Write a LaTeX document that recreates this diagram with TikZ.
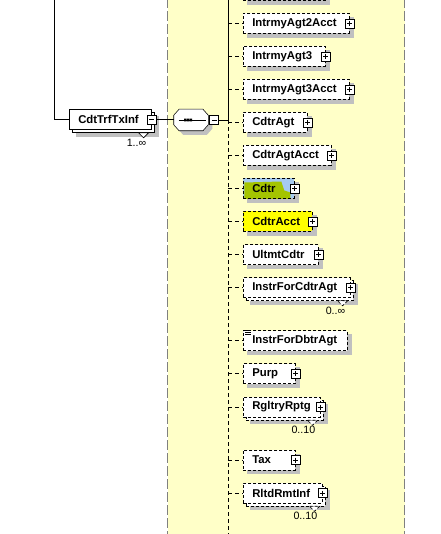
\documentclass[tikz,border=0pt]{standalone}
\usepackage{fontspec}
\newfontfamily\xsfont{Liberation Sans}
\definecolor{xsyellow}{HTML}{FFFFC8}
\definecolor{xsshadow}{HTML}{C0C0C0}
\definecolor{xsframe}{HTML}{808080}
\definecolor{hlblue}{HTML}{A6CAF0}
\definecolor{hlgreen}{HTML}{A4C400}
\definecolor{hlyellow}{HTML}{FFFF00}
\pgfdeclarelayer{back}
\pgfdeclarelayer{shade}
\pgfsetlayers{back,shade,main}
\tikzset{schemadiagram/.style={x=0.75pt,y=-0.75pt,line width=0.75pt}}
\tikzset{
  elem/.style={draw,fill=white,anchor=west,minimum height=15pt,inner xsep=6.75pt,
    inner ysep=0pt,text width=#1,align=left,
    font=\xsfont\bfseries\fontsize{8.5}{10}\selectfont},
  one/.style={elem=#1},
  many/.style={elem=#1,preaction={draw,fill=white,transform canvas={xshift=2.25pt,yshift=-2.25pt}}},
  optional/.style={dash pattern=on 2.25pt off 1.5pt},
  expander/.style={draw,solid,fill=white,minimum size=6.75pt,inner sep=0pt},
  plusbox/.style={expander,path picture={
    \draw ([xshift=1.5pt]path picture bounding box.west) -- ([xshift=-1.5pt]path picture bounding box.east)
          ([yshift=-1.5pt]path picture bounding box.north) -- ([yshift=1.5pt]path picture bounding box.south);}},
  minusbox/.style={expander,path picture={
    \draw ([xshift=1.5pt]path picture bounding box.west) -- ([xshift=-1.5pt]path picture bounding box.east);}},
  compositor/.style={minimum width=25.5pt,minimum height=15.75pt,inner sep=0pt},
  card/.style={anchor=base east,inner sep=0pt,font=\xsfont\fontsize{8}{9.6}\selectfont},
  notch/.style={draw,fill=white,line width=0.5pt},
  branch/.style={dash pattern=on 3pt off 2.25pt},
}
% octagon round a compositor node, moved by #2 (px)
\newcommand{\octagonpath}[2]{([shift={(#2)},xshift=4pt]#1.north west) -- ([shift={(#2)},xshift=-4pt]#1.north east)
  -- ([shift={(#2)},yshift=-4.5pt]#1.north east) -- ([shift={(#2)},yshift=4.5pt]#1.south east)
  -- ([shift={(#2)},xshift=-4pt]#1.south east) -- ([shift={(#2)},xshift=4pt]#1.south west)
  -- ([shift={(#2)},yshift=4.5pt]#1.south west) -- ([shift={(#2)},yshift=-4.5pt]#1.north west) -- cycle}

\begin{document}
\begin{tikzpicture}[schemadiagram]
\useasboundingbox (0,0) rectangle (440,534);
\clip (0,0) rectangle (440,534);

% sequence area
\begin{pgfonlayer}{back}
\fill[xsyellow] (167.5,-2) rectangle (404.5,536);
\draw[xsframe,dash pattern=on 7.5pt off 2.25pt] (167.5,-2) -- (167.5,536) (404.5,-2) -- (404.5,536);
\end{pgfonlayer}

\node[many=48pt] (cdttrftxinf) at (69,119.5) {CdtTrfTxInf};
\node[minusbox] (cdttrftxinf-x) at (cdttrftxinf.east) {};
\draw[notch] ([xshift=-9.75pt,yshift=-2.25pt]cdttrftxinf.south east) -- ++(7.5pt,0) -- ++(-3.75pt,-3.75pt) -- cycle;
\node[card] (cdttrftxinf-card) at ([xshift=-3.75pt,yshift=-12.4pt]cdttrftxinf.south east) {1..∞};

% sequence compositor
\node[compositor] (seq) at (191,120) {};
\draw[fill=white] \octagonpath{seq}{0,0};
\draw ([xshift=3.75pt]seq.west) -- ([xshift=-1.5pt]seq.east);
\fill ([xshift=-2.25pt]seq.center) ++(-3pt,-1.1pt) rectangle ++(1.8pt,2.2pt)
      ([xshift=-2.25pt]seq.center) ++(-0.9pt,-1.1pt) rectangle ++(1.8pt,2.2pt)
      ([xshift=-2.25pt]seq.center) ++(1.2pt,-1.1pt) rectangle ++(1.8pt,2.2pt);
\node[minusbox,anchor=west] (seq-x) at ([xshift=0.75pt]seq.east) {};

% children
\node[one=48pt,optional] (prevsib) at (243,-9.5) {};
\node[one=66pt,optional] (intrmyagt2acct) at (243,23.5) {IntrmyAgt2Acct};
\node[plusbox] (intrmyagt2acct-x) at (intrmyagt2acct.east) {};
\node[one=48pt,optional] (intrmyagt3) at (243,56.5) {IntrmyAgt3};
\node[plusbox] (intrmyagt3-x) at (intrmyagt3.east) {};
\node[one=66pt,optional] (intrmyagt3acct) at (243,89.5) {IntrmyAgt3Acct};
\node[plusbox] (intrmyagt3acct-x) at (intrmyagt3acct.east) {};
\node[one=34.5pt,optional] (cdtragt) at (243,122.5) {CdtrAgt};
\node[plusbox] (cdtragt-x) at (cdtragt.east) {};
\node[one=52.5pt,optional] (cdtragtacct) at (243,155.5) {CdtrAgtAcct};
\node[plusbox] (cdtragtacct-x) at (cdtragtacct.east) {};
\node[one=24.75pt,optional,fill=hlblue,path picture={
    \fill[hlgreen] ([shift={(1,4)}]path picture bounding box.north west)
      -- ([shift={(38,3)}]path picture bounding box.north west)
      -- ([shift={(41,12)}]path picture bounding box.north west)
      -- ([shift={(47,14)}]path picture bounding box.north west)
      -- ([shift={(47,22)}]path picture bounding box.north west)
      -- ([shift={(1,22)}]path picture bounding box.north west) -- cycle;}]
  (cdtr) at (243,188.5) {Cdtr};
\node[plusbox] (cdtr-x) at (cdtr.east) {};
\node[one=38.25pt,optional,fill=hlyellow] (cdtracct) at (243,221.5) {CdtrAcct};
\node[plusbox] (cdtracct-x) at (cdtracct.east) {};
\node[one=42.75pt,optional] (ultmtcdtr) at (243,254.5) {UltmtCdtr};
\node[plusbox] (ultmtcdtr-x) at (ultmtcdtr.east) {};
\node[many=66.75pt,optional] (instrforcdtragt) at (243,287.5) {InstrForCdtrAgt};
\node[plusbox] (instrforcdtragt-x) at (instrforcdtragt.east) {};
\draw[notch,optional] ([xshift=-9.75pt,yshift=-2.25pt]instrforcdtragt.south east) -- ++(7.5pt,0) -- ++(-3.75pt,-3.75pt) -- cycle;
\node[card] (instrforcdtragt-card) at ([xshift=-3.75pt,yshift=-12.4pt]instrforcdtragt.south east) {0..∞};
\node[one=64.5pt,optional] (instrfordbtragt) at (243,340.5) {InstrForDbtrAgt};
\draw[line width=0.6pt] ([xshift=1.5pt]instrfordbtragt.north west) -- +(4.5pt,0)
  ([xshift=1.5pt,yshift=-1.5pt]instrfordbtragt.north west) -- +(4.5pt,0)
  ([xshift=1.5pt,yshift=-3pt]instrfordbtragt.north west) -- +(4.5pt,0);
\node[one=25.5pt,optional] (purp) at (243,373.5) {Purp};
\node[plusbox] (purp-x) at (purp.east) {};
\node[many=44.25pt,optional] (rgltryrptg) at (243,407) {RgltryRptg};
\node[plusbox] (rgltryrptg-x) at (rgltryrptg.east) {};
\draw[notch,optional] ([xshift=-9.75pt,yshift=-2.25pt]rgltryrptg.south east) -- ++(7.5pt,0) -- ++(-3.75pt,-3.75pt) -- cycle;
\node[card] (rgltryrptg-card) at ([xshift=-3.75pt,yshift=-12.4pt]rgltryrptg.south east) {0..10};
\node[one=25.5pt,optional] (tax) at (243,460) {Tax};
\node[plusbox] (tax-x) at (tax.east) {};
\node[many=45.75pt,optional] (rltdrmtinf) at (243,493) {RltdRmtInf};
\node[plusbox] (rltdrmtinf-x) at (rltdrmtinf.east) {};
\draw[notch,optional] ([xshift=-9.75pt,yshift=-2.25pt]rltdrmtinf.south east) -- ++(7.5pt,0) -- ++(-3.75pt,-3.75pt) -- cycle;
\node[card] (rltdrmtinf-card) at ([xshift=-3.75pt,yshift=-12.4pt]rltdrmtinf.south east) {0..10};

% shadows
\begin{pgfonlayer}{shade}
\fill[xsshadow] \octagonpath{seq}{4,4};
\foreach \n in {prevsib,intrmyagt2acct,intrmyagt3,intrmyagt3acct,cdtragt,cdtragtacct,cdtr,
    cdtracct,ultmtcdtr,instrfordbtragt,purp,tax}
  \fill[xsshadow] ([shift={(4,4)}]\n.north west) rectangle ([shift={(4,4)}]\n.south east);
\foreach \n in {cdttrftxinf,instrforcdtragt,rgltryrptg,rltdrmtinf}
  \fill[xsshadow] ([shift={(7,7)}]\n.north west) rectangle ([shift={(7,7)}]\n.south east);
\end{pgfonlayer}

% connectors
\coordinate (parenttop) at (54,-2);
\coordinate (spinetop) at (228,-2);
\coordinate (spine) at (228,120);
\coordinate (spineend) at (228,536);
\draw (parenttop) |- (cdttrftxinf.west)
      (cdttrftxinf-x.east) -- (cdttrftxinf-x.east -| seq.west)
      (seq-x.east) -- (spine)
      (spinetop) -- (spine);
\draw[branch] (spine) -- (spineend)
      (spine |- intrmyagt2acct.west) -- (intrmyagt2acct.west)
      (spine |- intrmyagt3.west) -- (intrmyagt3.west)
      (spine |- intrmyagt3acct.west) -- (intrmyagt3acct.west)
      (spine |- cdtragt.west) -- (cdtragt.west)
      (spine |- cdtragtacct.west) -- (cdtragtacct.west)
      (spine |- cdtr.west) -- (cdtr.west)
      (spine |- cdtracct.west) -- (cdtracct.west)
      (spine |- ultmtcdtr.west) -- (ultmtcdtr.west)
      (spine |- instrforcdtragt.west) -- (instrforcdtragt.west)
      (spine |- instrfordbtragt.west) -- (instrfordbtragt.west)
      (spine |- purp.west) -- (purp.west)
      (spine |- rgltryrptg.west) -- (rgltryrptg.west)
      (spine |- tax.west) -- (tax.west)
      (spine |- rltdrmtinf.west) -- (rltdrmtinf.west);
\end{tikzpicture}
\end{document}
